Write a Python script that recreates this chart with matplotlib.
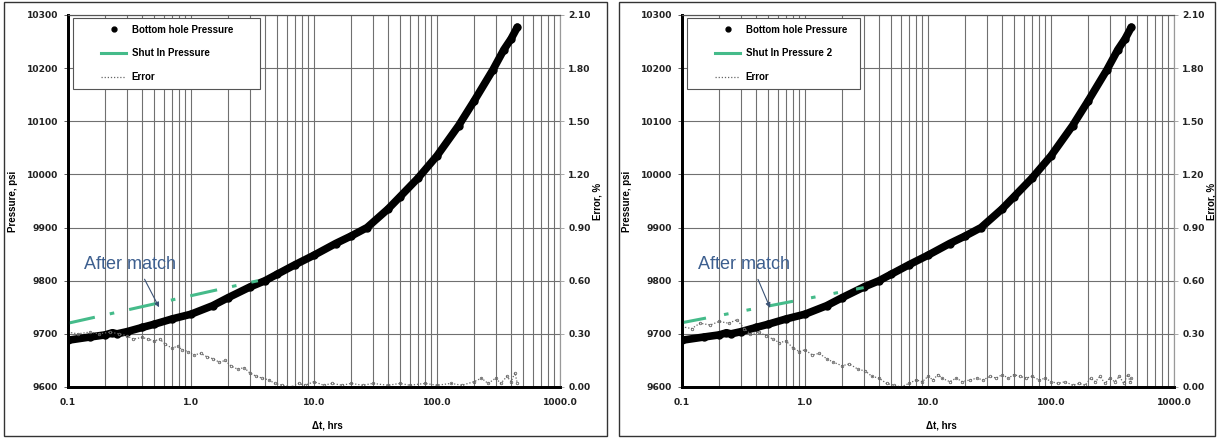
import matplotlib
matplotlib.use("Agg")
import matplotlib.pyplot as plt
from matplotlib.lines import Line2D
from matplotlib.patches import Rectangle
from matplotlib.legend_handler import HandlerLine2D
from matplotlib.ticker import FixedLocator, NullFormatter, LogLocator

plt.rcParams['font.family'] = ['Liberation Sans', 'DejaVu Sans']

# bottom hole pressure (same gauge data in both panels)
bhp_t = [0.1, 0.15, 0.2, 0.23, 0.25, 0.3, 0.4, 0.5, 0.7, 1.0, 1.5, 2.0, 3.0, 4.0,
         5.0, 7.0, 10, 15, 20, 27, 40, 50, 70, 100, 150, 200, 285, 350, 400, 450]
bhp_p = [9688, 9694, 9698, 9702, 9700, 9704, 9712, 9718, 9728, 9737, 9753, 9768,
         9788, 9800, 9812, 9830, 9848, 9870, 9884, 9900, 9935, 9958, 9993, 10035,
         10092, 10138, 10197, 10235, 10255, 10277]

# shut in pressure lines
shut1_t = [0.1, 3.5]
shut1_p = [9720, 9800]
shut2_t = [0.1, 3.0]
shut2_p = [9721, 9787]

# error, %
err1_t = [0.10, 0.12, 0.15, 0.18, 0.22, 0.26, 0.30, 0.34, 0.40, 0.45, 0.50, 0.56,
          0.62, 0.70, 0.78, 0.85, 0.95, 1.05, 1.2, 1.35, 1.5, 1.7, 1.9, 2.1, 2.4,
          2.7, 3.0, 3.4, 3.8, 4.3, 4.8, 5.5, 6.5, 7.5, 8.5, 10, 12, 14, 17, 20, 25,
          30, 40, 50, 60, 80, 100, 130, 160, 200, 230, 260, 300, 330, 370, 400,
          430, 450]
err1_v = [0.31, 0.30, 0.31, 0.30, 0.31, 0.30, 0.29, 0.27, 0.28, 0.27, 0.26, 0.27,
          0.24, 0.22, 0.23, 0.21, 0.20, 0.18, 0.19, 0.17, 0.16, 0.14, 0.15, 0.12,
          0.10, 0.11, 0.08, 0.06, 0.05, 0.04, 0.02, 0.01, 0.00, 0.02, 0.01, 0.03,
          0.01, 0.02, 0.01, 0.02, 0.01, 0.02, 0.01, 0.02, 0.01, 0.02, 0.01, 0.02,
          0.01, 0.03, 0.05, 0.02, 0.05, 0.02, 0.06, 0.03, 0.08, 0.02]

err2_t = [0.10, 0.12, 0.14, 0.17, 0.20, 0.24, 0.28, 0.32, 0.36, 0.42, 0.48, 0.55,
          0.62, 0.70, 0.80, 0.90, 1.0, 1.15, 1.3, 1.5, 1.7, 2.0, 2.3, 2.7, 3.1,
          3.5, 4.0, 4.6, 5.3, 6.0, 7.0, 8.0, 9.0, 10, 11, 12, 13, 15, 17, 19, 22,
          25, 28, 32, 36, 40, 45, 50, 56, 63, 70, 80, 90, 100, 115, 130, 150, 170,
          190, 210, 230, 250, 275, 300, 330, 360, 390, 420, 440, 450]
err2_v = [0.34, 0.33, 0.36, 0.35, 0.37, 0.36, 0.38, 0.33, 0.30, 0.31, 0.29, 0.27,
          0.25, 0.26, 0.22, 0.20, 0.21, 0.18, 0.19, 0.16, 0.14, 0.12, 0.13, 0.10,
          0.09, 0.06, 0.05, 0.02, 0.01, 0.00, 0.02, 0.04, 0.03, 0.06, 0.04, 0.07,
          0.05, 0.03, 0.05, 0.03, 0.04, 0.05, 0.04, 0.06, 0.05, 0.07, 0.05, 0.07,
          0.06, 0.05, 0.06, 0.04, 0.05, 0.03, 0.02, 0.03, 0.01, 0.02, 0.01, 0.05,
          0.03, 0.06, 0.02, 0.05, 0.03, 0.06, 0.02, 0.07, 0.03, 0.05]

x_ticks = [0.1, 1, 10, 100, 1000]
x_ticklabels = ['0.1', '1.0', '10.0', '100.0', '1000.0']
p_ticks = [9600, 9700, 9800, 9900, 10000, 10100, 10200, 10300]
e_ticks = [0.0, 0.3, 0.6, 0.9, 1.2, 1.5, 1.8, 2.1]

panels = [
    dict(left=68, shut_t=shut1_t, shut_p=shut1_p, shut_lbl='Shut In Pressure',
         shut_dash=(0, (9, 5, 1.5, 5)), err_t=err1_t, err_v=err1_v,
         leg_w=187, text_xy=(0.32, 9831), tip_xy=(0.55, 9750)),
    dict(left=682, shut_t=shut2_t, shut_p=shut2_p, shut_lbl='Shut In Pressure 2',
         shut_dash=(0, (8, 6, 1.5, 6, 1.5, 6)), err_t=err2_t, err_v=err2_v,
         leg_w=173, text_xy=(0.32, 9831), tip_xy=(0.52, 9749)),
]

W, H = 1218, 438
fig = plt.figure(figsize=(W / 100, H / 100), dpi=100)

# panel frames
for x0, x1 in [(4, 607), (619, 1215)]:
    fig.add_artist(Rectangle((x0 / W, 2 / H), (x1 - x0) / W, 434 / H,
                             transform=fig.transFigure, fill=False,
                             edgecolor='#333333', lw=1.0))

green = '#45bb8a'
gridc = '#707070'
tick_font = dict(fontsize=6.6, fontweight='bold', color='#222222',
                 family=['DejaVu Sans'])

for pn in panels:
    ax = fig.add_axes([pn['left'] / W, 1 - 387 / H, 492 / W, 372 / H])
    ax2 = ax.twinx()

    ax.set_xscale('log')
    ax.set_xlim(0.1, 1000)
    ax.set_ylim(9600, 10300)
    ax2.set_ylim(0, 2.1)

    ax.plot(bhp_t, bhp_p, color='black', lw=5.5, solid_capstyle='round', zorder=3)
    ax.plot(bhp_t, bhp_p, 'o', color='black', ms=5, zorder=3)
    ax.plot(pn['shut_t'], pn['shut_p'], color=green, lw=2.2,
            linestyle=pn['shut_dash'], zorder=4)
    ax2.plot(pn['err_t'], pn['err_v'], color='#666666', lw=0.9,
             linestyle=(0, (1, 1.5)), marker='o', ms=1.8, mfc='none', mew=0.6)

    ax.grid(which='both', axis='x', color=gridc, lw=0.8)
    ax.grid(which='major', axis='y', color=gridc, lw=0.8)
    ax.set_axisbelow(True)
    ax.xaxis.set_major_locator(FixedLocator(x_ticks))
    ax.xaxis.set_minor_locator(LogLocator(base=10, subs=range(2, 10)))
    ax.xaxis.set_minor_formatter(NullFormatter())
    ax.set_xticks(x_ticks)
    ax.set_xticklabels(x_ticklabels, **tick_font)
    ax.set_yticks(p_ticks)
    ax.set_yticklabels([str(v) for v in p_ticks], **tick_font)
    ax2.set_yticks(e_ticks)
    ax2.set_yticklabels(['%.2f' % v for v in e_ticks], **tick_font)
    ax.tick_params(axis='x', which='major', length=0, pad=8)
    ax.tick_params(axis='x', which='minor', length=0)
    ax.tick_params(axis='y', length=3, width=0.6, pad=4, color='#444444')
    ax2.tick_params(axis='y', length=3, width=0.6, pad=3, color='#999999')

    for a in (ax, ax2):
        a.spines['left'].set_linewidth(2)
        a.spines['bottom'].set_linewidth(2)
        a.spines['left'].set_color('black')
        a.spines['bottom'].set_color('black')
        a.spines['top'].set_linewidth(0.8)
        a.spines['top'].set_color('#555555')
        a.spines['right'].set_linewidth(0.8)
        a.spines['right'].set_color('#999999')

    ax.set_ylabel('Pressure, psi', fontsize=7, fontweight='bold')
    ax.yaxis.set_label_coords(-50 / 492, 0.5)
    ax2.set_ylabel('Error, %', fontsize=7, fontweight='bold', rotation=90)
    ax2.yaxis.set_label_coords(1 + 33 / 492, 0.5)
    ax.set_xlabel('\u0394t, hrs', fontsize=7, fontweight='bold')
    ax.xaxis.set_label_coords(259 / 492, -34 / 372)

    ax.annotate('After match', xy=pn['tip_xy'], xytext=pn['text_xy'],
                textcoords='data', ha='center', va='center', fontsize=13,
                color='#3d5f8f',
                arrowprops=dict(arrowstyle='-|>', color='#3a5275', lw=0.8,
                                mutation_scale=7, relpos=(0.62, 0.0),
                                shrinkA=3, shrinkB=0),
                zorder=6)

    handles = [
        Line2D([], [], linestyle='none', marker='o', color='black', ms=3.5),
        Line2D([], [], color=green, lw=2.2),
        Line2D([], [], color='#666666', lw=0.9, linestyle=(0, (1, 1.5))),
    ]
    labels = ['Bottom hole Pressure', pn['shut_lbl'], 'Error']
    leg = ax2.legend(handles, labels, loc='upper left',
                     bbox_to_anchor=(5 / 492, 1 - 75 / 372, pn['leg_w'] / 492, 72 / 372),
                     mode='expand', borderaxespad=0,
                     prop=dict(weight='bold', size=7),
                     frameon=True, fancybox=False, framealpha=1,
                     edgecolor='#555555', labelspacing=1.4, borderpad=0.7,
                     handlelength=4.8, handletextpad=0.55,
                     handler_map={Line2D: HandlerLine2D(xpad=2.2)})
    leg.get_frame().set_linewidth(0.8)
    leg.set_zorder(10)

fig.savefig('out.png', dpi=100)
